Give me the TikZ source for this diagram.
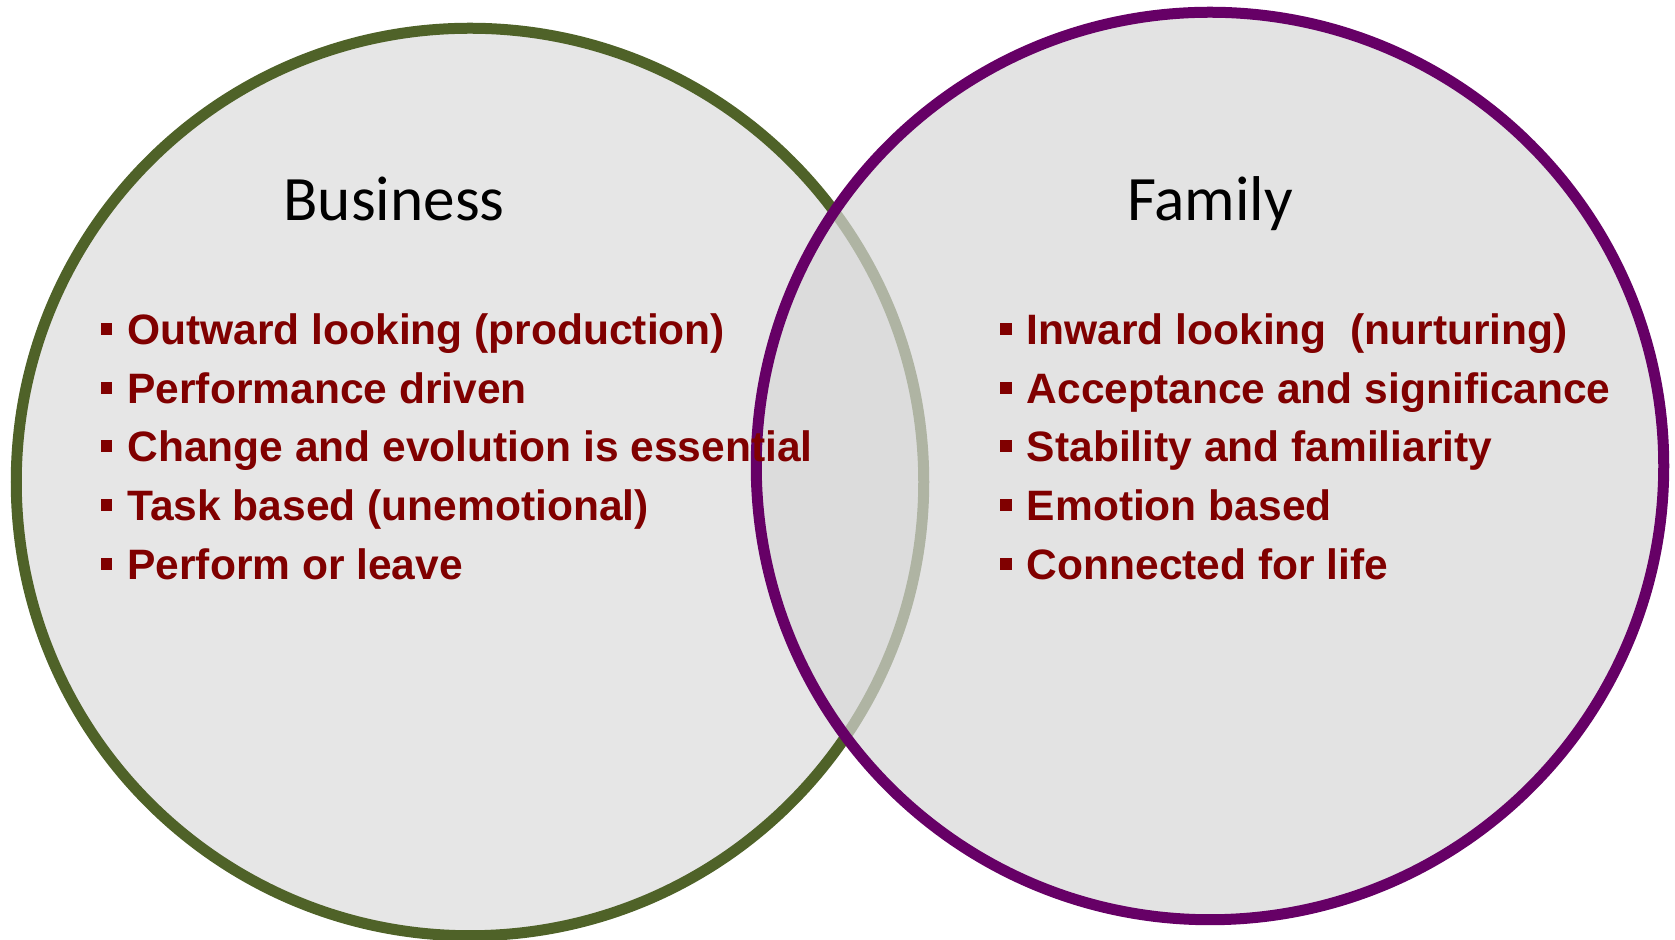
\documentclass[tikz,border=0pt]{standalone}
\usepackage{fontspec}
\setmainfont{Liberation Sans}
\newfontfamily\titlefont{Carlito}
\usetikzlibrary{positioning}
\definecolor{bizgreen}{HTML}{4F6228}
\definecolor{fampurple}{HTML}{660066}
\definecolor{itemred}{HTML}{800000}
\definecolor{circlefill}{HTML}{E6E6E6}
\definecolor{overfill}{HTML}{D8D8D8}
\newcommand{\sqbullet}{\rule[0.2cm]{0.23cm}{0.23cm}\hspace{0.3cm}}

\begin{document}
\begin{tikzpicture}[
  venn/.style = {shape = circle, minimum size = 18.15cm, line width = 0.22cm, inner sep = 0pt},
  title/.style = {font = \titlefont\fontsize{36}{40}\selectfont, anchor = base, inner sep = 0pt},
  item/.style = {font = \bfseries\fontsize{24.2}{29}\selectfont, text = itemred, anchor = base west, inner sep = 0pt}
]
\useasboundingbox (0,0) rectangle (33.5,18.8);
\fill[white] (0,0) rectangle (33.5,18.8);
% the two sets
\node[venn, draw = bizgreen, fill = circlefill] (business) at (9.40,9.16) {};
\node[venn, draw = fampurple, fill = overfill, fill opacity = 0.7] (family) at (24.20,9.48) {};
\node[title] (biztitle) at (7.88,14.38) {Business};
\node[title] (famtitle) at (24.20,14.38) {Family};
% business side
\node[item] (b1) at (2.01,11.90) {\sqbullet Outward looking (production)};
\node[item] (b2) at (2.01,10.72) {\sqbullet Performance driven};
\node[item] (b3) at (2.01,9.56) {\sqbullet Change and evolution is essential};
\node[item] (b4) at (2.01,8.38) {\sqbullet Task based (unemotional)};
\node[item] (b5) at (2.01,7.20) {\sqbullet Perform or leave};
% family side
\node[item] (f1) at (20.00,11.90) {\sqbullet Inward looking~ (nurturing)};
\node[item] (f2) at (20.00,10.72) {\sqbullet Acceptance and significance};
\node[item] (f3) at (20.00,9.56) {\sqbullet Stability and familiarity};
\node[item] (f4) at (20.00,8.38) {\sqbullet Emotion based};
\node[item] (f5) at (20.00,7.20) {\sqbullet Connected for life};
\end{tikzpicture}
\end{document}
